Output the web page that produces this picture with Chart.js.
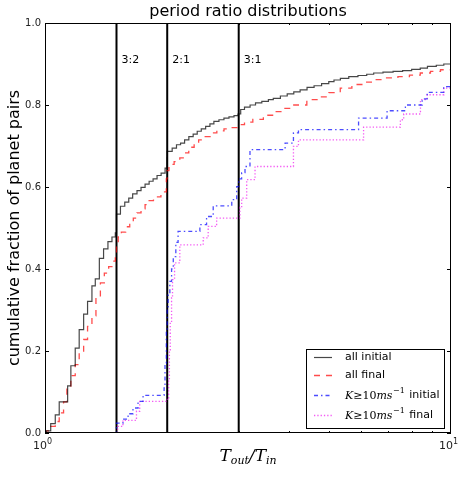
<!doctype html>
<html lang="en">
<head>
    <meta charset="utf-8">
    <title>period ratio distributions</title>
    <script src="https://cdn.jsdelivr.net/npm/chart.js"></script>
    <style>
        body { margin: 0; background: #fff; }
    </style>
</head>
<body>
    <canvas id="chartEl" width="458" height="480"></canvas>
    <script>
        // [period ratio, cumulative fraction]
        const allInitial = [
            [1.0, 0], [1.007, 0.005], [1.033, 0.023], [1.060, 0.044], [1.084, 0.076], [1.137, 0.115],
            [1.158, 0.164], [1.187, 0.207], [1.214, 0.252], [1.245, 0.290], [1.273, 0.321], [1.305, 0.359],
            [1.330, 0.376], [1.361, 0.426], [1.394, 0.449], [1.429, 0.467], [1.462, 0.478], [1.490, 0.488],
            [1.5, 0.534], [1.534, 0.553], [1.572, 0.563], [1.608, 0.573], [1.644, 0.583], [1.685, 0.591],
            [1.724, 0.599], [1.764, 0.607], [1.805, 0.614], [1.846, 0.620], [1.888, 0.628], [1.932, 0.634],
            [1.976, 0.646], [1.998, 0.672], [2.0, 0.687], [2.057, 0.695], [2.108, 0.703], [2.157, 0.707],
            [2.207, 0.715], [2.261, 0.723], [2.317, 0.729], [2.371, 0.736], [2.426, 0.742], [2.487, 0.748],
            [2.548, 0.754], [2.606, 0.760], [2.682, 0.764], [2.759, 0.768], [2.839, 0.771], [2.921, 0.774],
            [2.988, 0.778], [3.034, 0.789], [3.1, 0.795], [3.2, 0.800], [3.3, 0.805], [3.42, 0.809],
            [3.55, 0.813], [3.65, 0.816], [3.8, 0.822], [3.95, 0.827], [4.1, 0.832], [4.25, 0.837],
            [4.42, 0.843], [4.6, 0.847], [4.8, 0.852], [5.0, 0.857], [5.15, 0.861], [5.34, 0.865],
            [5.6, 0.869], [5.9, 0.872], [6.2, 0.875], [6.45, 0.878], [6.8, 0.880], [7.2, 0.882],
            [7.6, 0.884], [8.0, 0.887], [8.4, 0.890], [8.75, 0.894], [9.2, 0.897], [9.6, 0.900], [10, 0.903]
        ];
        const allFinal = [
            [1.0, 0], [1.007, 0.005], [1.033, 0.016], [1.060, 0.028], [1.084, 0.049], [1.111, 0.076],
            [1.132, 0.107], [1.158, 0.140], [1.187, 0.167], [1.214, 0.198], [1.245, 0.228], [1.273, 0.260],
            [1.305, 0.286], [1.335, 0.333], [1.369, 0.366], [1.400, 0.390], [1.435, 0.406], [1.468, 0.419],
            [1.490, 0.439], [1.5, 0.463], [1.515, 0.478], [1.542, 0.490], [1.58, 0.503], [1.617, 0.515],
            [1.65, 0.524], [1.685, 0.537], [1.724, 0.547], [1.764, 0.557], [1.805, 0.567], [1.85, 0.576],
            [1.93, 0.588], [1.99, 0.620], [2.0, 0.640], [2.02, 0.655], [2.08, 0.662], [2.148, 0.671],
            [2.2, 0.683], [2.26, 0.697], [2.33, 0.705], [2.39, 0.715], [2.46, 0.723], [2.55, 0.732],
            [2.65, 0.737], [2.76, 0.742], [2.88, 0.745], [3.0, 0.752], [3.1, 0.758], [3.25, 0.765],
            [3.45, 0.775], [3.652, 0.784], [3.85, 0.792], [4.1, 0.800], [4.415, 0.813], [4.7, 0.820],
            [5.0, 0.830], [5.336, 0.841], [5.7, 0.850], [6.1, 0.856], [6.448, 0.862], [6.9, 0.866],
            [7.4, 0.869], [7.9, 0.873], [8.4, 0.878], [8.9, 0.882], [9.421, 0.886], [10, 0.889]
        ];
        const bigKInitial = [
            [1.0, 0], [1.5, 0.024], [1.556, 0.034], [1.602, 0.047], [1.647, 0.061], [1.695, 0.077],
            [1.744, 0.092], [1.965, 0.110], [1.975, 0.170], [1.99, 0.250], [2.0, 0.300], [2.01, 0.337],
            [2.03, 0.370], [2.05, 0.400], [2.07, 0.430], [2.1, 0.465], [2.127, 0.492], [2.407, 0.508],
            [2.5, 0.528], [2.596, 0.554], [2.884, 0.569], [2.966, 0.601], [3.0, 0.620], [3.05, 0.635],
            [3.109, 0.650], [3.198, 0.691], [3.903, 0.707], [4.092, 0.732], [4.21, 0.740], [5.92, 0.768],
            [6.959, 0.786], [7.721, 0.800], [8.492, 0.815], [8.737, 0.831], [9.598, 0.845], [10, 0.862]
        ];
        const bigKFinal = [
            [1.0, 0], [1.51, 0.016], [1.556, 0.031], [1.68, 0.053], [1.711, 0.077], [2.0, 0.085],
            [2.016, 0.130], [2.025, 0.200], [2.035, 0.270], [2.05, 0.330], [2.061, 0.374], [2.085, 0.415],
            [2.148, 0.459], [2.453, 0.476], [2.523, 0.504], [2.647, 0.524], [3.02, 0.550], [3.051, 0.573],
            [3.139, 0.618], [3.291, 0.650], [4.092, 0.699], [4.21, 0.715], [6.091, 0.746], [7.504, 0.764],
            [7.647, 0.778], [8.41, 0.813], [8.737, 0.825], [9.598, 0.841], [10, 0.854]
        ];

        const resonances = [1.5, 2, 3];
        const resonanceLabels = ['3:2', '2:1', '3:1'];
        const yTicks = [0, 0.2, 0.4, 0.6, 0.8, 1.0];
        const xMajorTicks = [1, 10];
        const xMajorLabels = ['0', '1'];
        const xMinorTicks = [2, 3, 4, 5, 6, 7, 8, 9];
        const seriesNames = ['all initial', 'all final', 'initial', 'final'];

        const toXY = (pairs) => pairs.map(([x, y]) => ({ x, y }));

        const styles = [
            { color: 'rgba(0,0,0,0.72)', dash: [], width: 1.2 },
            { color: 'rgba(255,0,0,0.7)', dash: [6, 6], width: 1.3 },
            { color: 'rgba(0,0,255,0.7)', dash: [4, 3, 1.5, 3], width: 1.3 },
            { color: 'rgba(238,0,238,0.65)', dash: [1.3, 2], width: 1.3 },
        ];

        const datasets = [allInitial, allFinal, bigKInitial, bigKFinal].map((d, i) => ({
            label: seriesNames[i],
            data: toXY(d),
            // jump happens at the new x (horizontal first, then vertical)
            stepped: 'before',
            borderColor: styles[i].color,
            borderDash: styles[i].dash,
            borderWidth: styles[i].width,
            pointRadius: 0,
            fill: false,
        }));

        resonances.forEach((r) => {
            datasets.push({
                data: [{ x: r, y: 0 }, { x: r, y: 1 }],
                borderColor: '#000',
                borderWidth: 2,
                pointRadius: 0,
                fill: false,
            });
        });

        const FONT = '"DejaVu Sans", sans-serif';
        const MATH = '"DejaVu Serif", serif';

        // K >= 10 ms^-1 drawn in pieces like mathtext
        const drawMathK = (ctx, x, y) => {
            ctx.textAlign = 'left';
            ctx.textBaseline = 'middle';
            ctx.font = 'italic 11px ' + MATH;
            ctx.fillText('K', x, y);
            x += ctx.measureText('K').width;
            ctx.font = '11px ' + MATH;
            ctx.fillText('≥10', x, y);
            x += ctx.measureText('≥10').width;
            ctx.font = 'italic 11px ' + MATH;
            ctx.fillText('ms', x, y);
            x += ctx.measureText('ms').width;
            ctx.font = '8px ' + MATH;
            ctx.fillText('−1', x + 0.5, y - 5);
            x += ctx.measureText('−1').width + 0.5;
            return x;
        };

        const decorations = {
            id: 'decorations',
            afterDraw(chart) {
                const { ctx, chartArea: a, scales } = chart;
                const xs = scales.x, ys = scales.y;
                ctx.save();

                // frame
                ctx.lineWidth = 1;
                ctx.strokeStyle = '#000';
                ctx.strokeRect(a.left + 0.5, a.top + 0.5, a.right - a.left - 1, a.bottom - a.top - 1);

                // tick marks pointing in
                ctx.beginPath();
                yTicks.forEach((v) => {
                    const py = Math.round(ys.getPixelForValue(v)) + 0.5;
                    ctx.moveTo(a.left, py); ctx.lineTo(a.left + 4, py);
                    ctx.moveTo(a.right, py); ctx.lineTo(a.right - 4, py);
                });
                xMinorTicks.forEach((v) => {
                    const px = Math.round(xs.getPixelForValue(v)) + 0.5;
                    ctx.moveTo(px, a.bottom); ctx.lineTo(px, a.bottom - 2);
                    ctx.moveTo(px, a.top); ctx.lineTo(px, a.top + 2);
                });
                ctx.stroke();

                // y tick labels
                ctx.fillStyle = '#222';
                ctx.font = '10px ' + FONT;
                ctx.textAlign = 'right';
                ctx.textBaseline = 'middle';
                yTicks.forEach((v) => {
                    ctx.fillText(v.toFixed(1), a.left - 4, ys.getPixelForValue(v));
                });

                // x tick labels: 10^0, 10^1
                xMajorTicks.forEach((v, i) => {
                    const px = xs.getPixelForValue(v) - 2.5;
                    ctx.font = '11px ' + FONT;
                    const w1 = ctx.measureText('10').width;
                    ctx.font = '8px ' + FONT;
                    const w2 = ctx.measureText(xMajorLabels[i]).width;
                    const x0 = px - (w1 + w2) / 2;
                    ctx.textAlign = 'left';
                    ctx.textBaseline = 'alphabetic';
                    ctx.font = '11px ' + FONT;
                    ctx.fillText('10', x0, a.bottom + 16);
                    ctx.font = '8px ' + FONT;
                    ctx.fillText(xMajorLabels[i], x0 + w1, a.bottom + 11);
                });

                // resonance labels
                ctx.font = '11px ' + FONT;
                ctx.fillStyle = '#000';
                ctx.textAlign = 'left';
                ctx.textBaseline = 'middle';
                resonances.forEach((r, i) => {
                    ctx.fillText(resonanceLabels[i], xs.getPixelForValue(r) + 5, 60);
                });

                // title
                const cx = (a.left + a.right) / 2;
                ctx.font = '16px ' + FONT;
                ctx.textAlign = 'center';
                ctx.textBaseline = 'alphabetic';
                ctx.fillText('period ratio distributions', cx, 16);

                // y axis label
                ctx.save();
                ctx.translate(15, (a.top + a.bottom) / 2);
                ctx.rotate(-Math.PI / 2);
                ctx.font = '16px ' + FONT;
                ctx.textBaseline = 'middle';
                ctx.fillText('cumulative fraction of planet pairs', 0, 0);
                ctx.restore();

                // x axis label T_out / T_in
                const parts = [
                    ['T', 'italic 17px ' + MATH, 0],
                    ['out', 'italic 11px ' + MATH, 3],
                    ['/', 'italic 17px ' + MATH, 0],
                    ['T', 'italic 17px ' + MATH, 0],
                    ['in', 'italic 11px ' + MATH, 3],
                ];
                let total = 0;
                parts.forEach(([t, f]) => { ctx.font = f; total += ctx.measureText(t).width; });
                let lx = cx - total / 2;
                ctx.textAlign = 'left';
                parts.forEach(([t, f, dy]) => {
                    ctx.font = f;
                    ctx.fillText(t, lx, 461 + dy);
                    lx += ctx.measureText(t).width;
                });

                // legend
                const lgX = 306.5, lgY = 349.5, lgW = 138, lgH = 79;
                ctx.fillStyle = '#fff';
                ctx.fillRect(lgX, lgY, lgW, lgH);
                ctx.strokeStyle = '#000';
                ctx.lineWidth = 1;
                ctx.setLineDash([]);
                ctx.strokeRect(lgX, lgY, lgW, lgH);
                const rowsY = [357, 375, 395, 415];
                rowsY.forEach((ry, i) => {
                    ctx.beginPath();
                    ctx.strokeStyle = styles[i].color;
                    ctx.lineWidth = styles[i].width;
                    ctx.setLineDash(styles[i].dash);
                    ctx.moveTo(314, ry + 0.5);
                    ctx.lineTo(332, ry + 0.5);
                    ctx.stroke();
                    ctx.setLineDash([]);
                    ctx.fillStyle = '#000';
                    ctx.textBaseline = 'middle';
                    ctx.textAlign = 'left';
                    if (i < 2) {
                        ctx.font = '11px ' + FONT;
                        ctx.fillText(seriesNames[i], 345, ry);
                    } else {
                        const ex = drawMathK(ctx, 345, ry + 1);
                        ctx.font = '11px ' + FONT;
                        ctx.fillText(' ' + seriesNames[i], ex + 1, ry);
                    }
                });

                ctx.restore();
            }
        };

        new Chart(document.getElementById('chartEl'), {
            type: 'line',
            data: { datasets },
            options: {
                responsive: false,
                animation: false,
                events: [],
                layout: { padding: { top: 23, right: 7, left: 0, bottom: 0 } },
                plugins: { legend: { display: false }, title: { display: false }, tooltip: { enabled: false } },
                scales: {
                    x: {
                        type: 'logarithmic',
                        min: 1,
                        max: 10,
                        grid: { display: false },
                        border: { display: false },
                        ticks: { display: false },
                        afterFit: (s) => { s.height = 47; },
                    },
                    y: {
                        type: 'linear',
                        min: 0,
                        max: 1,
                        grid: { display: false },
                        border: { display: false },
                        ticks: { display: false },
                        afterFit: (s) => { s.width = 45; },
                    },
                },
            },
            plugins: [decorations],
        });
    </script>
</body>
</html>
